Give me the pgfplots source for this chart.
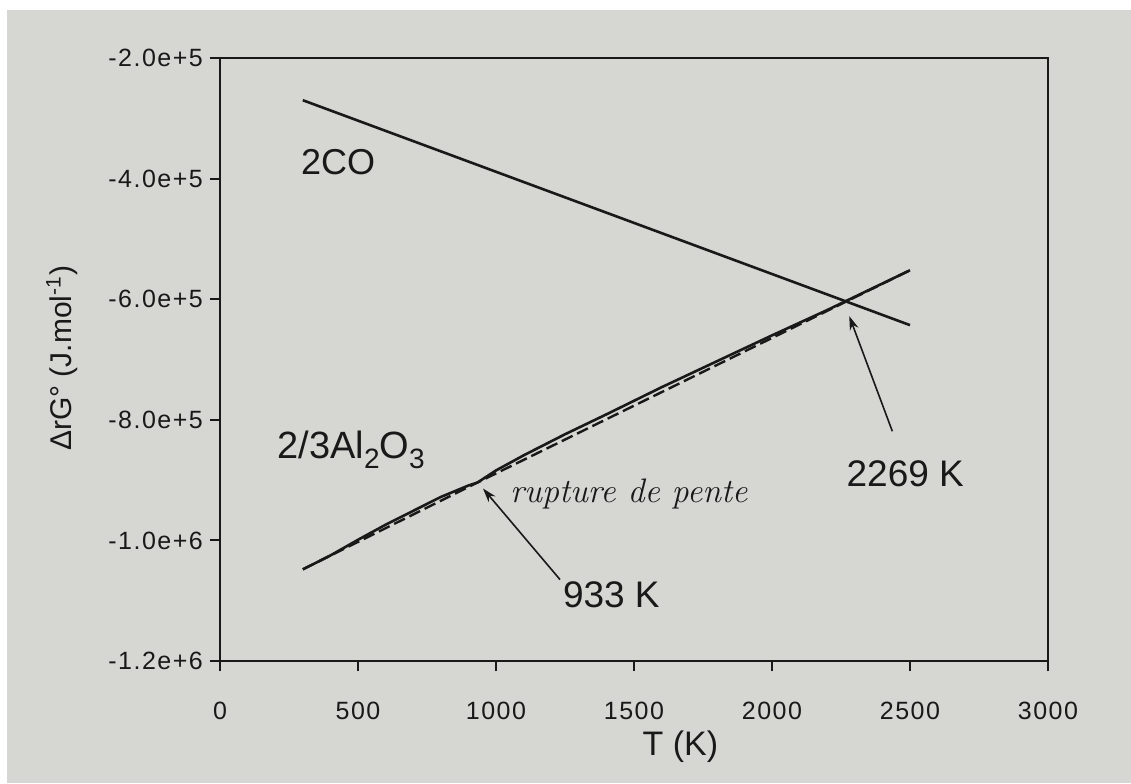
\documentclass[border=0pt]{standalone}
\usepackage{pgfplots}
\pgfplotsset{compat=1.18}
\usepackage{fontspec}
\setmainfont{Liberation Sans}
\newfontfamily\tickfont{Liberation Sans}[LetterSpace=6]
\usetikzlibrary{arrows.meta}
\definecolor{paper}{RGB}{214,214,210}
\definecolor{ink}{RGB}{25,25,25}
\newcommand{\sub}[1]{\raisebox{-5pt}{\fontsize{14}{14}\selectfont #1}}
\begin{document}
\begin{tikzpicture}[x=1pt,y=1pt]
\fill[white] (0,0) rectangle (565.5,391.5);
\fill[paper] (3.5,0) rectangle (565.5,386.5);
\begin{axis}[
  at={(110pt,61pt)}, anchor=south west,
  scale only axis, width=414pt, height=301.5pt,
  xmin=0, xmax=3000, ymin=-1.2e6, ymax=-2e5,
  axis line style={ink, line width=1.2pt},
  tick style={ink, line width=1pt},
  tick align=outside, major tick length=5pt,
  xtick pos=left, ytick pos=left,
  xtick={0,500,1000,1500,2000,2500,3000},
  xticklabels={0,500,1000,1500,2000,2500,3000},
  ytick={-1200000,-1000000,-800000,-600000,-400000,-200000},
  yticklabels={-1.2e+6,-1.0e+6,-8.0e+5,-6.0e+5,-4.0e+5,-2.0e+5},
  ticklabel style={font=\tickfont\fontsize{12.5}{12.5}\selectfont, text=ink},
  xticklabel style={yshift=-12pt},
  scaled y ticks=false,
  xlabel={T (K)},
  ylabel={ΔrG° (J.mol\textsuperscript{-1})},
  xlabel style={at={(axis description cs:0.556,0)}, anchor=center, yshift=-43pt, font=\fontsize{17}{17}\selectfont, text=ink},
  ylabel style={at={(axis description cs:-0.191,0.502)}, anchor=center, font=\fontsize{15}{15}\selectfont, text=ink},
  clip=false,
]
% 2C + O2 -> 2CO
\addplot[ink, line width=1.3pt] coordinates {(300,-270000) (2500,-643000)};
% 4/3 Al + O2 -> 2/3 Al2O3, Ellingham approximation (dashed)
\addplot[ink, line width=1.2pt, dash pattern=on 6pt off 2.5pt] coordinates {(300,-1048000) (933,-904000) (2500,-552000)};
% exact curve (solid)
\addplot[ink, line width=1.3pt] coordinates {
 (300,-1048000) (400,-1025000) (500,-999000) (600,-974000) (700,-951000)
 (800,-928000) (900,-909000) (933,-904000) (1000,-884000) (1100,-859000)
 (1250,-824000) (1400,-791000) (1600,-746000) (1800,-703000) (2000,-660000)
 (2200,-618000) (2500,-552000)};
\node[font=\fontsize{18}{18}\selectfont, text=ink] at (axis cs:428,-373000) {2CO};
\node[anchor=base, font=\fontsize{19}{19}\selectfont, text=ink] at (axis cs:475,-865000) {2/3Al\sub{2}O\sub{3}};
\node[font=\fontsize{18.5}{18.5}\selectfont, text=ink] at (axis cs:2483,-890000) {2269 K};
\node[font=\fontsize{18.5}{18.5}\selectfont, text=ink] at (axis cs:1418,-1090000) {933 K};
\draw[ink, line width=0.8pt, -{Stealth[length=7pt,width=4.5pt]}] (axis cs:2436,-819000) -- (axis cs:2280,-628000);
\draw[ink, line width=0.8pt, -{Stealth[length=7pt,width=4.5pt]}] (axis cs:1232,-1065000) -- (axis cs:953,-914000);
\node[anchor=base west, inner sep=0pt, font=\fontfamily{lmr}\itshape\fontsize{17}{17}\selectfont, text=ink] at (axis cs:1050,-937000) {rupture de pente};
\end{axis}
\end{tikzpicture}
\end{document}
